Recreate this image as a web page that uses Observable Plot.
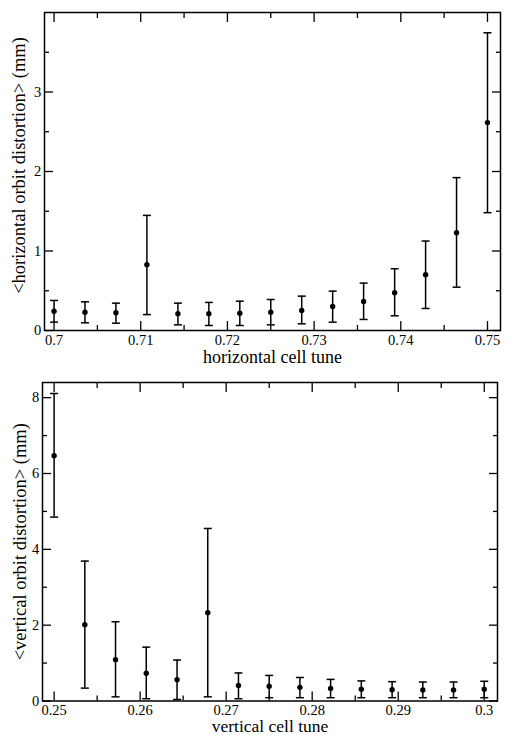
<!DOCTYPE html>
<html><head><meta charset="utf-8">
<script src="https://cdn.jsdelivr.net/npm/d3@7"></script>
<script src="https://cdn.jsdelivr.net/npm/@observablehq/plot@0.6"></script>
<style>
html,body{margin:0;padding:0;background:#fff;}
#chart svg{display:block;}
</style></head><body><div id="chart"></div>
<script>
// ---- top panel: horizontal ----
const tuneH = [0.7, 0.70357, 0.70714, 0.71071, 0.71429, 0.71786, 0.72143, 0.725, 0.72857, 0.73214, 0.73571, 0.73929, 0.74286, 0.74643, 0.75];
const meanH = [0.243, 0.231, 0.223, 0.827, 0.21, 0.21, 0.218, 0.231, 0.252, 0.302, 0.365, 0.475, 0.702, 1.23, 2.615];
const hiH   = [0.378, 0.361, 0.344, 1.448, 0.344, 0.353, 0.369, 0.39, 0.432, 0.495, 0.596, 0.777, 1.125, 1.923, 3.745];
const loH   = [0.105, 0.097, 0.092, 0.20, 0.071, 0.063, 0.063, 0.071, 0.084, 0.105, 0.139, 0.185, 0.277, 0.545, 1.482];
const xTicksH = [0.7, 0.71, 0.72, 0.73, 0.74, 0.75];
const xMinorH = [0.705, 0.715, 0.725, 0.735, 0.745];
const yTicksH = [0, 1, 2, 3];
const yMinorH = [0.5, 1.5, 2.5, 3.5];
const xLabelH = "horizontal cell tune";
const yLabelH = "<horizontal orbit distortion> (mm)";

// ---- bottom panel: vertical ----
const tuneV = [0.25, 0.25357, 0.25714, 0.26071, 0.26429, 0.26786, 0.27143, 0.275, 0.27857, 0.28214, 0.28571, 0.28929, 0.29286, 0.29643, 0.3];
const meanV = [6.47, 2.01, 1.09, 0.73, 0.56, 2.33, 0.41, 0.39, 0.36, 0.33, 0.31, 0.30, 0.29, 0.29, 0.31];
const hiV   = [8.11, 3.69, 2.09, 1.42, 1.08, 4.55, 0.74, 0.675, 0.62, 0.57, 0.53, 0.51, 0.50, 0.50, 0.52];
const loV   = [4.85, 0.34, 0.11, 0.06, 0.04, 0.11, 0.06, 0.087, 0.087, 0.087, 0.087, 0.087, 0.087, 0.087, 0.087];
const xTicksV = [0.25, 0.26, 0.27, 0.28, 0.29, 0.3];
const xMinorV = [0.255, 0.265, 0.275, 0.285, 0.295];
const yTicksV = [0, 2, 4, 6, 8];
const yMinorV = [1, 3, 5, 7];
const xLabelV = "vertical cell tune";
const yLabelV = "<vertical orbit distortion> (mm)";

const fmt = d => String(+d.toFixed(4));
const none = () => "";
const capSymbol = { draw(ctx, size) { const w = Math.sqrt(size / Math.PI); ctx.moveTo(-w, 0); ctx.lineTo(w, 0); } };

function panel(o) {
  const rows = o.x.map((x, i) => ({x, mean: o.mean[i], lo: o.lo[i], hi: o.hi[i]}));
  const tickOpts = {label: null, strokeWidth: 1.3, stroke: "black"};
  return Plot.plot({
    width: 507,
    height: o.height,
    marginTop: o.marginTop,
    marginBottom: o.marginBottom,
    marginLeft: o.marginLeft,
    marginRight: o.marginRight,
    style: {fontFamily: "'Liberation Serif', 'Times New Roman', serif", fontSize: "15px", background: "white", color: "black"},
    x: {domain: o.xDomain},
    y: {domain: o.yDomain},
    marks: [
      Plot.ruleX(rows, {x: "x", y1: "lo", y2: "hi", stroke: "black", strokeWidth: 1.5}),
      Plot.dot(rows, {x: "x", y: "hi", symbol: capSymbol, r: 4, stroke: "black", fill: "none", strokeWidth: 1.5}),
      Plot.dot(rows, {x: "x", y: "lo", symbol: capSymbol, r: 4, stroke: "black", fill: "none", strokeWidth: 1.5}),
      Plot.dot(rows, {x: "x", y: "mean", r: 2.7, fill: "black", stroke: "none"}),
      Plot.frame({stroke: "black", strokeWidth: 1.5}),
      Plot.axisX(o.xTicks, {...tickOpts, anchor: "bottom", tickSize: -9, tickPadding: o.xTickPad, tickFormat: fmt, fontSize: 14.5}),
      Plot.axisX(o.xMinor, {...tickOpts, anchor: "bottom", tickSize: -5, tickFormat: none, fill: "none"}),
      Plot.axisX(o.xTicks, {...tickOpts, anchor: "top", tickSize: -9, tickFormat: none, fill: "none"}),
      Plot.axisX(o.xMinor, {...tickOpts, anchor: "top", tickSize: -5, tickFormat: none, fill: "none"}),
      Plot.axisY(o.yTicks, {...tickOpts, anchor: "left", tickSize: -9, tickPadding: 12.3, tickFormat: fmt, fontSize: 14.5}),
      Plot.axisY(o.yMinor, {...tickOpts, anchor: "left", tickSize: -5, tickFormat: none, fill: "none"}),
      Plot.axisY(o.yTicks, {...tickOpts, anchor: "right", tickSize: -9, tickFormat: none, fill: "none"}),
      Plot.axisY(o.yMinor, {...tickOpts, anchor: "right", tickSize: -5, tickFormat: none, fill: "none"}),
      Plot.text([o.xLabel], {frameAnchor: "bottom", text: d => d, textAnchor: "middle", lineAnchor: "bottom", dy: o.xLabelDy, fontSize: o.xLabelSize, fill: "black"}),
      Plot.text([o.yLabel], {frameAnchor: "left", text: d => d, rotate: -90, textAnchor: "middle", lineAnchor: "middle", dx: o.yLabelDx, dy: o.yLabelDy, fontSize: 18.5, fill: "black"})
    ]
  });
}

const topPanel = panel({
  x: tuneH, mean: meanH, lo: loH, hi: hiH,
  xDomain: [0.6989, 0.7515], yDomain: [0, 4],
  xTicks: xTicksH, xMinor: xMinorH, yTicks: yTicksH, yMinor: yMinorH,
  xLabel: xLabelH, yLabel: yLabelH,
  height: 370, marginTop: 12, marginBottom: 40, marginLeft: 44, marginRight: 7,
  xTickPad: 13, xLabelDy: 32.8, xLabelSize: 18, yLabelDx: -25, yLabelDy: -6
});
const bottomPanel = panel({
  x: tuneV, mean: meanV, lo: loV, hi: hiV,
  xDomain: [0.24865, 0.30154], yDomain: [0, 8.4],
  xTicks: xTicksV, xMinor: xMinorV, yTicks: yTicksV, yMinor: yMinorV,
  xLabel: xLabelV, yLabel: yLabelV,
  height: 365, marginTop: 12, marginBottom: 34.5, marginLeft: 42, marginRight: 10,
  xTickPad: 12.3, xLabelDy: 31.2, xLabelSize: 17.5, yLabelDx: -22.7, yLabelDy: 0
});
document.getElementById("chart").append(topPanel, bottomPanel);
</script>
</body></html>
